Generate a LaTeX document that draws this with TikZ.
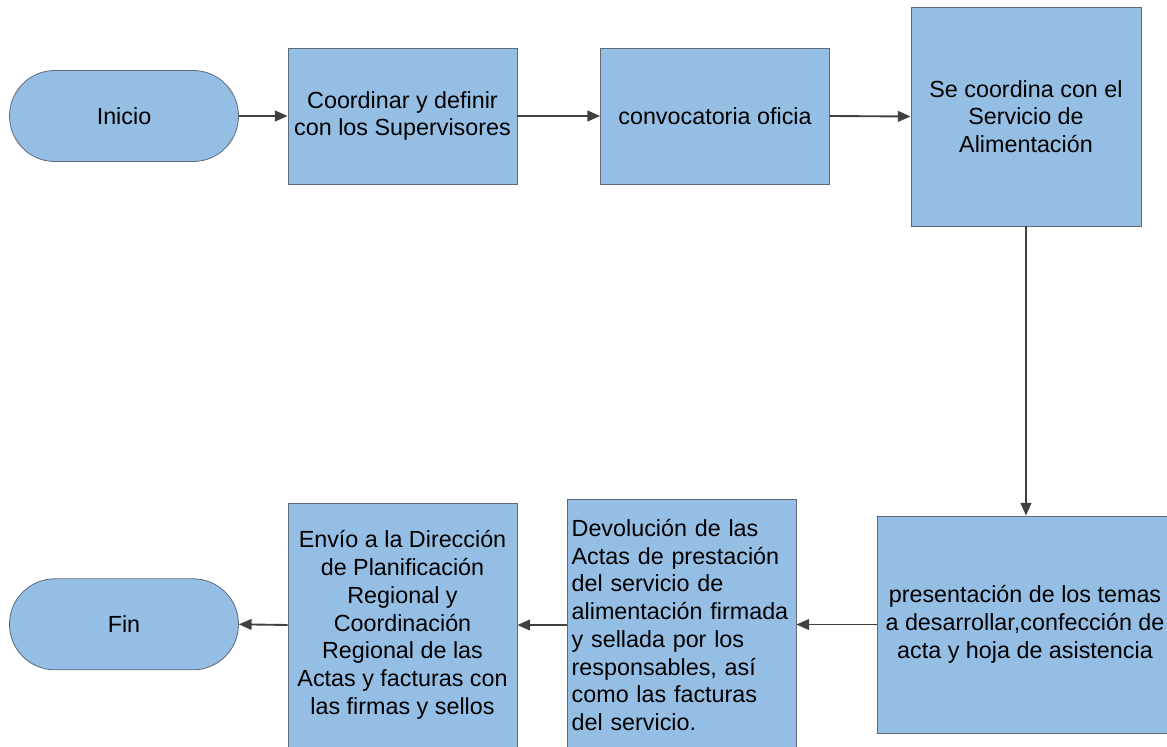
\documentclass[tikz,border=0pt]{standalone}
\usepackage{fontspec}
\setmainfont{Liberation Sans}
\usetikzlibrary{arrows.meta,positioning,calc}

\definecolor{boxfill}{HTML}{95BEE4}
\definecolor{boxline}{HTML}{5B6B7B}
\definecolor{arrline}{HTML}{404040}

\begin{document}
\begin{tikzpicture}[
  x=0.75pt,y=-0.75pt,
  font=\fontsize{17.5}{20.8}\selectfont,
  >={Triangle[length=9.5pt,width=8pt]},
  term/.style={draw=boxline, fill=boxfill, rounded corners=34pt, align=center,
    minimum width=171.75pt, minimum height=68.25pt, line width=0.6pt},
  proc/.style={draw=boxline, fill=boxfill, align=center, inner sep=3.5pt,
    minimum width=171.75pt, line width=0.6pt},
  flow/.style={->, draw=arrline, fill=arrline, line width=1.4pt},
]
\useasboundingbox (0,0) rectangle (1167,746);

%% ---------- TOP ROW ----------
\node[term] (inicio) at (124,116) {Inicio};
\node[proc, minimum height=102pt] (coord) at (402.5,116)
  {Coordinar y definir\\con los Supervisores};
\node[proc, minimum height=102pt] (convoc) at (715,116) {convocatoria oficia};
\node[proc, minimum width=172.5pt, minimum height=164.25pt] (secoord) at (1026,116.5)
  {Se coordina con el\\Servicio de\\Alimentación};
\draw[flow] (inicio.east) -- (coord.west);
\draw[flow] (coord.east) -- (convoc.west);
\draw[flow] (convoc.east) -- (secoord.west);

%% ---------- BOTTOM ROW ----------
\node[proc, minimum width=222pt, minimum height=162.75pt] (present) at (1025,624.5)
  {presentación de los temas\\a desarrollar,confección de\\acta y hoja de asistencia};
\node[proc, align=left, text width=164.75pt, minimum height=189pt] (devol) at (681.5,625)
  {Devolución de las\\Actas de prestación\\del servicio de\\alimentación firmada\\y sellada por los\\responsables, así\\como las facturas\\del servicio.};
\node[proc, minimum height=183pt] (envio) at (402.5,625)
  {Envío a la Dirección\\de Planificación\\Regional y\\Coordinación\\Regional de las\\Actas y facturas con\\las firmas y sellos};
\node[term] (fin) at (124,624.3) {Fin};
\draw[flow] (secoord.south) -- (secoord.south |- present.north);
\draw[flow] (present.west) -- (present.west -| devol.east);
\draw[flow] (devol.west |- envio.east) -- (envio.east);
\draw[flow] (envio.west) -- (fin.east);
\end{tikzpicture}
\end{document}
